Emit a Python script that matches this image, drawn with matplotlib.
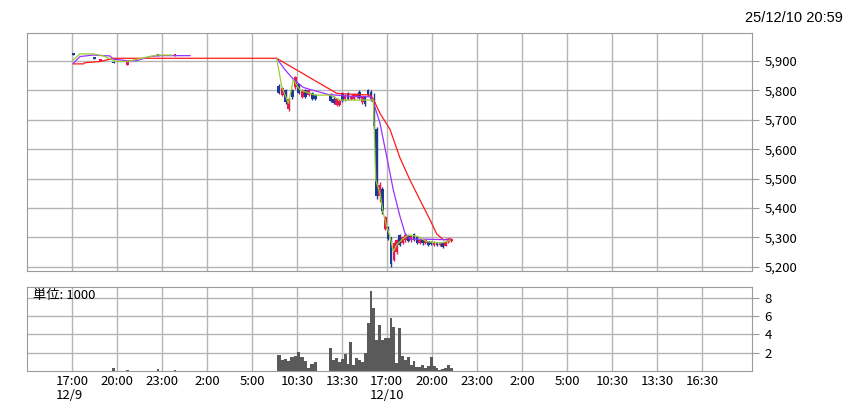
import numpy as np
import matplotlib
matplotlib.use("Agg")
from matplotlib import pyplot as plt
from matplotlib.ticker import FuncFormatter

plt.rcParams['font.family'] = ['Noto Sans CJK JP', 'DejaVu Sans']

# x axis measured in grid slots: 0 = 17:00 12/9, 1 = 20:00, ... 14 = 16:30
tick_labels = ['17:00\n12/9', '20:00', '23:00', '2:00', '5:00', '10:30', '13:30',
               '17:00\n12/10', '20:00', '23:00', '2:00', '5:00', '10:30', '13:30', '16:30']
price_ticks = [5200, 5300, 5400, 5500, 5600, 5700, 5800, 5900]
vol_ticks = [2, 4, 6, 8]

# 12/9 night session (few trades)
night_t = [0.03, 0.50, 0.64, 0.93, 1.23, 1.91, 2.29]
night_o = [5925, 5910, 5899, 5896, 5887, 5921, 5918]
night_c = [5920, 5907, 5902, 5892, 5903, 5917, 5919]
night_vol = [0.05, 0.05, 0.03, 0.3, 0.15, 0.25, 0.1]

# 12/10 morning bars
am_start, am_end = 4.56, 5.444
am_o = [5815, 5785, 5800, 5735, 5800, 5810, 5820, 5778, 5800, 5785, 5790, 5785]
am_c = [5792, 5808, 5760, 5770, 5778, 5845, 5792, 5800, 5778, 5800, 5770, 5770]
am_h = [5820, 5812, 5805, 5775, 5805, 5848, 5822, 5803, 5805, 5803, 5795, 5788]
am_l = [5788, 5780, 5752, 5730, 5772, 5805, 5788, 5774, 5774, 5782, 5766, 5766]
am_vol = [1.7, 1.25, 1.3, 1.1, 1.5, 1.6, 2.05, 1.5, 1.05, 0.35, 0.8, 1.0]

# 12/10 afternoon + evening bars
pm_start, pm_end = 5.718, 8.46
pm_o = [5785, 5770, 5750, 5750, 5790, 5770, 5790, 5770, 5772, 5776, 5795, 5760, 5780, 5800, 5795,
        5770, 5670, 5440, 5465, 5330, 5335, 5300, 5225, 5250, 5310, 5282, 5290, 5305, 5290, 5312,
        5300, 5282, 5290, 5280, 5287, 5285, 5276, 5283, 5274, 5280, 5272, 5283, 5288]
pm_c = [5765, 5758, 5770, 5765, 5765, 5782, 5772, 5780, 5788, 5785, 5775, 5780, 5752, 5785, 5770,
        5680, 5440, 5480, 5390, 5368, 5295, 5210, 5280, 5290, 5275, 5300, 5310, 5288, 5305, 5292,
        5282, 5292, 5280, 5290, 5276, 5278, 5284, 5275, 5282, 5268, 5285, 5294, 5295]
pm_h = [5790, 5780, 5775, 5770, 5795, 5786, 5795, 5784, 5792, 5790, 5800, 5784, 5782, 5803, 5800,
        5790, 5675, 5490, 5470, 5372, 5340, 5302, 5285, 5294, 5312, 5304, 5314, 5308, 5308, 5315,
        5303, 5295, 5292, 5293, 5289, 5287, 5287, 5285, 5284, 5282, 5287, 5296, 5298]
pm_l = [5760, 5755, 5748, 5746, 5762, 5765, 5768, 5766, 5768, 5773, 5770, 5755, 5748, 5780, 5765,
        5670, 5430, 5420, 5380, 5325, 5290, 5200, 5220, 5245, 5270, 5278, 5286, 5284, 5286, 5288,
        5278, 5278, 5276, 5277, 5272, 5274, 5272, 5272, 5270, 5265, 5270, 5280, 5285]
pm_vol = [2.5, 1.25, 1.4, 0.95, 1.35, 1.8, 0.8, 3.15, 0.7, 1.4, 1.25, 1.0, 1.95, 5.2, 8.75,
          6.85, 3.4, 5.05, 3.4, 3.6, 3.6, 5.75, 4.75, 0.9, 4.7, 1.6, 1.15, 1.5, 0.7, 1.05,
          0.4, 0.4, 0.7, 0.35, 0.5, 1.5, 0.5, 0.35, 0.1, 0.2, 0.35, 0.7, 0.3]

# moving averages
ma_short_night_t = [0.029, 0.178, 0.473, 0.696, 0.918, 0.993, 1.216, 1.733, 1.882, 2.216]
ma_short_night = [5903, 5924, 5924, 5917, 5903, 5898, 5898, 5915, 5920, 5920]
ma_short_day_t = [4.549, 4.66, 4.807, 4.918, 5.067, 5.4, 5.733, 5.956, 6.696, 6.749, 6.844, 6.918,
                  6.993, 7.067, 7.14, 7.216, 7.327, 7.473, 7.696, 7.882, 8.178, 8.327, 8.4]
ma_short_day = [5909, 5813, 5756, 5835, 5801, 5784, 5784, 5767, 5767, 5496, 5450, 5382,
                5337, 5303, 5252, 5275, 5292, 5309, 5303, 5286, 5281, 5286, 5291]

ma_mid_night_t = [0.029, 0.178, 0.473, 0.844, 0.918, 1.216, 1.438, 1.733, 1.956, 2.622]
ma_mid_night = [5892, 5915, 5920, 5917, 5906, 5901, 5901, 5915, 5918, 5918]
ma_mid_day_t = [4.549, 4.733, 4.918, 5.14, 5.362, 5.696, 6.251, 6.622, 6.696, 6.844, 6.993,
                7.14, 7.289, 7.4, 7.511, 7.882, 8.4]
ma_mid_day = [5909, 5870, 5838, 5810, 5800, 5786, 5779, 5778, 5760, 5688, 5575,
              5461, 5371, 5314, 5294, 5294, 5292]

ma_long_t = [0.029, 0.251, 0.289, 0.622, 0.844, 0.918, 4.549, 5.882, 6.067, 6.622, 6.696, 6.844,
             7.067, 7.289, 7.511, 7.733, 7.956, 8.104, 8.251, 8.4]
ma_long = [5890, 5890, 5894, 5898, 5906, 5909, 5909, 5790, 5788, 5784, 5770, 5722,
           5667, 5570, 5495, 5427, 5360, 5312, 5292, 5296]

up_col = '#e8174b'
down_col = '#1a3a94'
grid_col = '#b4b4b4'
frame_col = '#9a9a9a'


def bar_times(start, end, n):
    step = (end - start) / n
    return start + step * (np.arange(n) + 0.5), step


am_t, am_step = bar_times(am_start, am_end, len(am_o))
pm_t, pm_step = bar_times(pm_start, pm_end, len(pm_o))


def candles(ax, t, o, h, l, c, w):
    for i in range(len(t)):
        col = up_col if c[i] >= o[i] else down_col
        ax.vlines(t[i], l[i], h[i], color=col, lw=1.0, zorder=3)
        ax.bar(t[i], max(abs(c[i] - o[i]), 6), width=w, bottom=min(o[i], c[i]),
               color=col, lw=0, zorder=3)


fig = plt.figure(figsize=(8.46, 4.15), dpi=100)
ax = fig.add_axes([0.0319, 0.347, 0.857, 0.5735])
axv = fig.add_axes([0.0319, 0.106, 0.857, 0.2024])

candles(ax, night_t, night_o, [max(a, b) for a, b in zip(night_o, night_c)],
        [min(a, b) for a, b in zip(night_o, night_c)], night_c, 0.06)
candles(ax, am_t, am_o, am_h, am_l, am_c, am_step * 0.9)
candles(ax, pm_t, pm_o, pm_h, pm_l, pm_c, pm_step * 0.9)

ax.plot(ma_long_t, ma_long, color='#ff1a1a', lw=0.9, zorder=4)
ax.plot(ma_mid_night_t, ma_mid_night, color='#9b30ff', lw=0.9, zorder=4)
ax.plot(ma_mid_day_t, ma_mid_day, color='#9b30ff', lw=0.9, zorder=4)
ax.plot(ma_short_night_t, ma_short_night, color='#9acd32', lw=0.9, zorder=4)
ax.plot(ma_short_day_t, ma_short_day, color='#9acd32', lw=0.9, zorder=4)

axv.bar(night_t, night_vol, width=0.06, color='#5a5a5a', lw=0)
axv.bar(am_t, am_vol, width=am_step, color='#5a5a5a', lw=0)
axv.bar(pm_t, pm_vol, width=pm_step, color='#5a5a5a', lw=0)

for a in (ax, axv):
    a.set_xlim(-1.0, 15.11)
    a.set_xticks(range(len(tick_labels)))
    a.grid(True, color=grid_col, lw=1.0)
    a.set_axisbelow(True)
    for s in a.spines.values():
        s.set_color(frame_col)
    a.yaxis.tick_right()
    a.tick_params(axis='y', direction='out', length=5, color=frame_col, labelsize=9.5, pad=4)
    a.tick_params(axis='x', length=0)

ax.set_ylim(5186, 5995)
ax.set_yticks(price_ticks)
ax.yaxis.set_major_formatter(FuncFormatter(lambda v, p: f'{int(v):,}'))
ax.set_xticklabels([])

axv.set_ylim(0, 9.15)
axv.set_yticks(vol_ticks)
axv.set_xticklabels(tick_labels, fontsize=9.5, linespacing=1.1, multialignment='left')
axv.tick_params(axis='x', pad=3)
axv.text(0.008, 0.9, '単位: 1000', transform=axv.transAxes, fontsize=9.5, va='center', ha='left')

fig.text(0.996, 0.957, '25/12/10 20:59', ha='right', va='center',
         family='Liberation Sans', fontsize=10.5)

fig.savefig('out.png', dpi=100)
